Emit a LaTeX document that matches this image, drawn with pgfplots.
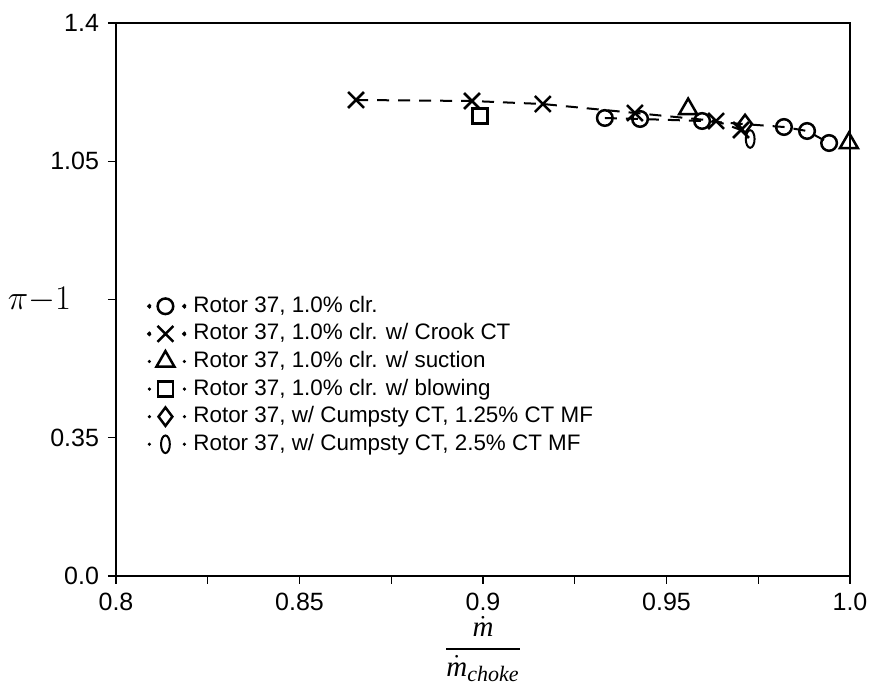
\documentclass[border=0pt]{standalone}
\usepackage{pgfplots}
\pgfplotsset{compat=1.18}
\usepackage{amsmath}
\usepackage{fontspec}
\setmainfont{Liberation Sans}
\newfontfamily\tnr{Liberation Serif}
\begin{document}
\begin{tikzpicture}
\pgfplotsset{
  legimg/.style={legend image code/.code={
    \fill[black] (0pt,0pt) circle (0.6pt);
    \fill[black] (17.5pt,0pt) circle (0.6pt);
    \draw[##1] plot coordinates {(8pt,0pt)};
    \path (20.5pt,0pt);}},
}
\begin{axis}[name=ax, scale only axis, width=367pt, height=276.5pt,
  xmin=0.8, xmax=1.0, ymin=0, ymax=1.4,
  xtick={0.8,0.85,0.9,0.95,1.0}, xticklabels={0.8,0.85,0.9,0.95,1.0},
  minor xtick={0.825,0.875,0.925,0.975},
  ytick={0,0.35,0.7,1.05,1.4}, yticklabels={0.0,0.35,,1.05,1.4},
  tick align=outside, xtick pos=left, ytick pos=left,
  major tick length=4pt, minor tick length=4pt,
  tick style={black, line width=0.6pt},
  axis line style={line width=0.7pt},
  ticklabel style={font=\fontsize{12.5}{14}\selectfont},
  xticklabel style={yshift=-1pt},
  yticklabel style={xshift=-1pt},
  clip=false,
  xlabel={\tnr\itshape\fontsize{14.5}{17}\selectfont $\dfrac{\dot{\text{m}}}{\dot{\text{m}}_{\text{\fontsize{11}{12}\selectfont choke}}}$},
  every axis x label/.style={at={(axis description cs:0.5,0)}, anchor=center, yshift=-36.5pt},
  ylabel={\fontsize{16.5}{18}\selectfont $\pi{-}1$},
  every axis y label/.style={at={(axis description cs:0,0.5)}, anchor=east, xshift=-19pt},
  legend style={at={(rel axis cs:0.042,0.512)}, anchor=north west, draw=none, fill=none,
    inner sep=0pt, font=\fontsize{11.2}{12}\selectfont, row sep=0.8pt,
    nodes={text height=8.5pt, text depth=2.5pt, inner sep=1pt}},
  legend cell align=left,
  legimg,
  every axis plot/.append style={black, mark options={solid, black, line width=1.25pt}},
]
\addplot[dashed, dash pattern=on 6pt off 4.5pt, line width=1pt, mark=o, mark size=3.9pt] coordinates {
  (0.9332,1.1595) (0.9428,1.1570) (0.9597,1.1519) (0.9820,1.1367) (0.9883,1.1266) (0.9943,1.0962)};
\addlegendentry{Rotor 37, 1.0\% clr.}
\addplot[dashed, dash pattern=on 6pt off 4.5pt, line width=1pt, mark=x, mark size=5.6pt] coordinates {
  (0.8654,1.2051) (0.8970,1.2025) (0.9163,1.1949) (0.9414,1.1722) (0.9635,1.1519) (0.9703,1.1291)};
\addlegendentry{Rotor 37, 1.0\% clr. w/ Crook CT}
\addplot[only marks, mark=triangle, mark size=5.2pt] coordinates {
  (0.9559,1.1823) (0.9997,1.0962)};
\addlegendentry{Rotor 37, 1.0\% clr. w/ suction}
\addplot[only marks, mark=square, mark size=3.8pt] coordinates {
  (0.8992,1.1646)};
\addlegendentry{Rotor 37, 1.0\% clr. w/ blowing}
\addplot[only marks, mark=diamond, mark size=4.6pt] coordinates {
  (0.9714,1.1443)};
\addlegendentry{Rotor 37, w/ Cumpsty CT, 1.25\% CT MF}
\addplot[only marks, mark=o, mark size=4.4pt, mark options={xscale=0.5, line width=1pt}] coordinates {
  (0.9728,1.1063)};
\addlegendentry{Rotor 37, w/ Cumpsty CT, 2.5\% CT MF}
\end{axis}
\path ([xshift=-58pt,yshift=-55pt]ax.south west) rectangle ([xshift=14pt,yshift=11.5pt]ax.north east);
\end{tikzpicture}
\end{document}
